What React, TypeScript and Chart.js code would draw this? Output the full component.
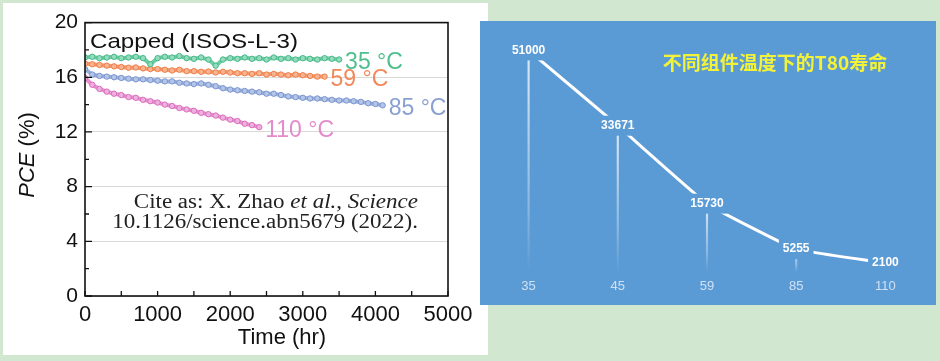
import React, { useEffect, useRef } from "react";
import { Chart, registerables } from "chart.js";

Chart.register(...registerables);

// ---------- data: left panel (PCE vs time) ----------
const HOURS = [0, 100, 200, 300, 400, 500, 600, 700, 800, 900, 1000, 1100, 1200, 1300, 1400, 1500, 1600, 1700, 1800, 1900, 2000, 2100, 2200, 2300, 2400, 2500, 2600, 2700, 2800, 2900, 3000, 3100, 3200, 3300, 3400, 3500, 3600, 3700, 3800, 3900, 4000, 4100];
const PCE_35 = [17.45, 17.5, 17.4, 17.45, 17.5, 17.4, 17.45, 17.5, 17.4, 16.95, 17.4, 17.5, 17.45, 17.55, 17.4, 17.35, 17.45, 17.3, 16.85, 17.3, 17.4, 17.35, 17.45, 17.35, 17.4, 17.3, 17.45, 17.35, 17.4, 17.3, 17.4, 17.35, 17.3, 17.4, 17.35, 17.3];
const PCE_59 = [17.0, 16.95, 16.9, 16.85, 16.8, 16.75, 16.7, 16.72, 16.65, 16.6, 16.6, 16.55, 16.5, 16.55, 16.45, 16.45, 16.4, 16.42, 16.35, 16.4, 16.35, 16.3, 16.3, 16.25, 16.3, 16.2, 16.25, 16.2, 16.15, 16.2, 16.15, 16.1, 16.05, 16.05];
const PCE_85 = [16.6, 16.2, 16.1, 16.05, 16.0, 15.95, 15.9, 15.85, 15.85, 15.8, 15.75, 15.7, 15.7, 15.6, 15.55, 15.5, 15.55, 15.45, 15.35, 15.2, 15.1, 15.05, 15.0, 14.95, 14.9, 14.8, 14.8, 14.7, 14.6, 14.55, 14.5, 14.45, 14.45, 14.4, 14.35, 14.3, 14.3, 14.25, 14.2, 14.1, 14.05, 13.95];
const PCE_110 = [15.95, 15.45, 15.15, 14.95, 14.8, 14.7, 14.55, 14.5, 14.35, 14.25, 14.15, 14.0, 13.9, 13.75, 13.65, 13.55, 13.4, 13.3, 13.2, 13.05, 12.9, 12.8, 12.6, 12.5, 12.35];
const SERIES_LABELS = ["35 °C", "59 °C", "85 °C", "110 °C"];
const X_TICKS = [0, 1000, 2000, 3000, 4000, 5000];
const Y_TICKS = [0, 4, 8, 12, 16, 20];
const PANEL_TITLE = "Capped (ISOS-L-3)";
const CITE_1 = ["Cite as: X. Zhao ", "et al.", ", ", "Science"];
const CITE_2 = "10.1126/science.abn5679 (2022).";

// ---------- data: right panel (T80 lifetime) ----------
const TEMPS = ["35", "45", "59", "85", "110"];
const T80 = [51000, 33671, 15730, 5255, 2100];
const RIGHT_TITLE = "不同组件温度下的T80寿命";

// ---------- styles ----------
const PAGE_BG = "#d1e7cf";
const BLUE = "#5b9bd5";
const LINE_COLORS = ["#45b886", "#ef7d47", "#7995cf", "#d96dbb"];
const FILL_COLORS = ["#93dcbd", "#f8b491", "#b4c5e8", "#f0b0df"];
const BAND_COLORS = ["#6fcca4", "#f49a6c", "#98aedc", "#e68fcd"];
const TEXT_COLORS = ["#4fbf8e", "#f2895a", "#8aa0d3", "#e38bcb"];
const SANS = '"Liberation Sans", Arial, sans-serif';
const SERIF = '"Liberation Serif", "Times New Roman", serif';
const STRETCH = 1.15;

const leftDecor = {
  id: "leftDecor",
  afterDatasetsDraw(chart: any) {
    const { ctx, chartArea: a, scales } = chart;
    const xs = scales.x;
    const ys = scales.y;
    ctx.save();
    // frame
    ctx.strokeStyle = "#111";
    ctx.lineWidth = 1.6;
    ctx.strokeRect(a.left, a.top, a.right - a.left, a.bottom - a.top);
    // inward ticks
    ctx.lineWidth = 1.3;
    ctx.beginPath();
    for (let v = 0; v <= 20; v += 2) {
      const py = ys.getPixelForValue(v);
      const len = v % 4 === 0 ? 7 : 4;
      ctx.moveTo(a.left, py);
      ctx.lineTo(a.left + len, py);
    }
    for (let v = 0; v <= 5000; v += 500) {
      const px = xs.getPixelForValue(v);
      ctx.moveTo(px, a.bottom);
      ctx.lineTo(px, a.bottom - 5);
    }
    ctx.stroke();

    // series end labels
    ctx.font = `23px ${SANS}`;
    ctx.textBaseline = "middle";
    ctx.textAlign = "left";
    for (let i = 0; i < SERIES_LABELS.length; i++) {
      const meta = chart.getDatasetMeta(i);
      const last = meta.data[meta.data.length - 1];
      ctx.fillStyle = TEXT_COLORS[i];
      ctx.fillText(SERIES_LABELS[i], last.x + 6, last.y + 3);
    }

    // panel title (horizontally stretched like the source figure)
    ctx.save();
    ctx.fillStyle = "#111";
    ctx.font = `21px ${SANS}`;
    ctx.translate(a.left + 5, a.top + 20);
    ctx.scale(STRETCH, 1);
    ctx.fillText(PANEL_TITLE, 0, 0);
    ctx.restore();

    // citation
    const fonts = [`20px ${SERIF}`, `italic 20px ${SERIF}`, `20px ${SERIF}`, `italic 20px ${SERIF}`];
    let total = 0;
    const widths = CITE_1.map((s, i) => {
      ctx.font = fonts[i];
      const w = ctx.measureText(s).width;
      total += w;
      return w;
    });
    ctx.save();
    ctx.fillStyle = "#222";
    ctx.translate(a.right - 30, 0);
    ctx.scale(STRETCH, 1);
    let cx = -total;
    CITE_1.forEach((s, i) => {
      ctx.font = fonts[i];
      ctx.fillText(s, cx, 200);
      cx += widths[i];
    });
    ctx.font = `20px ${SERIF}`;
    ctx.textAlign = "right";
    ctx.fillText(CITE_2, 0, 220);
    ctx.restore();

    // axis titles
    ctx.fillStyle = "#111";
    ctx.textAlign = "center";
    ctx.font = `22px ${SANS}`;
    ctx.fillText("Time (hr)", 279, 335);

    ctx.translate(25, 152);
    ctx.rotate(-Math.PI / 2);
    ctx.textAlign = "left";
    ctx.font = `italic 22px ${SANS}`;
    const w1 = ctx.measureText("PCE").width;
    ctx.font = `22px ${SANS}`;
    const w2 = ctx.measureText(" (%)").width;
    const start = -(w1 + w2) / 2;
    ctx.font = `italic 22px ${SANS}`;
    ctx.fillText("PCE", start, 0);
    ctx.font = `22px ${SANS}`;
    ctx.fillText(" (%)", start + w1, 0);
    ctx.restore();
  },
};

const rightDecor = {
  id: "rightDecor",
  afterDatasetsDraw(chart: any) {
    const { ctx } = chart;
    const meta = chart.getDatasetMeta(0);
    ctx.save();
    ctx.font = `bold 12px ${SANS}`;
    ctx.textAlign = "center";
    ctx.textBaseline = "middle";
    meta.data.forEach((pt: any, i: number) => {
      const txt = String(T80[i]);
      const w = ctx.measureText(txt).width;
      ctx.fillStyle = BLUE;
      ctx.fillRect(pt.x - w / 2 - 4, pt.y - 10, w + 8, 20);
      ctx.fillStyle = "#ffffff";
      ctx.fillText(txt, pt.x, pt.y);
    });
    ctx.font = `bold 19px "Noto Sans CJK SC", sans-serif`;
    ctx.fillStyle = "#f2f238";
    ctx.fillText(RIGHT_TITLE, 295, 42);
    ctx.restore();
  },
};

export default function App() {
  const leftRef = useRef<HTMLCanvasElement>(null);
  const rightRef = useRef<HTMLCanvasElement>(null);

  useEffect(() => {
    const series = [PCE_35, PCE_59, PCE_85, PCE_110];
    const left = new Chart(leftRef.current as HTMLCanvasElement, {
      type: "line",
      data: {
        datasets: series.map((vals, i) => ({
          label: SERIES_LABELS[i],
          data: vals.map((v, j) => ({ x: HOURS[j], y: v })),
          borderColor: BAND_COLORS[i],
          borderWidth: 4,
          pointRadius: 2.7,
          pointBorderWidth: 1,
          pointBorderColor: LINE_COLORS[i],
          pointBackgroundColor: FILL_COLORS[i],
          tension: 0,
        })),
      },
      options: {
        responsive: false,
        animation: false,
        layout: { padding: { left: 0, top: 14, right: 40, bottom: 0 } },
        plugins: { legend: { display: false }, tooltip: { enabled: false } },
        scales: {
          x: {
            type: "linear",
            min: 0,
            max: 5000,
            afterFit: (s: any) => { s.height = 59; },
            afterBuildTicks: (s: any) => { s.ticks = X_TICKS.map((v) => ({ value: v })); },
            grid: { display: false, drawTicks: false },
            border: { display: false },
            ticks: {
              color: "#111",
              font: { family: SANS, size: 22 },
              padding: 6,
              maxRotation: 0,
              callback: (v: any) => String(v),
            },
          },
          y: {
            min: 0,
            max: 20,
            afterFit: (s: any) => { s.width = 82; },
            afterBuildTicks: (s: any) => { s.ticks = Y_TICKS.map((v) => ({ value: v })); },
            grid: { color: "#d9d9d9", lineWidth: 1, drawTicks: false },
            border: { display: false },
            ticks: { color: "#111", font: { family: SANS, size: 21 }, padding: 7, callback: (v: any) => String(v) },
          },
        },
      },
      plugins: [leftDecor],
    } as any);

    const right = new Chart(rightRef.current as HTMLCanvasElement, {
      type: "bar",
      data: {
        labels: TEMPS,
        datasets: [
          {
            type: "line",
            data: T80,
            borderColor: "#ffffff",
            borderWidth: 3,
            pointRadius: 0,
            tension: 0.1,
            order: 0,
          },
          {
            type: "bar",
            data: T80,
            barThickness: 1.5,
            order: 1,
            backgroundColor: (c: any) => {
              const chart = c.chart;
              if (!chart.chartArea || c.raw === undefined) return "rgba(255,255,255,0.6)";
              const ys = chart.scales.y;
              const top = ys.getPixelForValue(c.raw);
              const base = ys.getPixelForValue(0);
              const g = chart.ctx.createLinearGradient(0, top, 0, base);
              g.addColorStop(0, "rgba(255,255,255,0.8)");
              g.addColorStop(0.7, "rgba(255,255,255,0.3)");
              g.addColorStop(1, "rgba(255,255,255,0)");
              return g;
            },
          },
        ],
      },
      options: {
        responsive: false,
        animation: false,
        layout: { padding: { left: 4, top: 12, right: 6, bottom: 0 } },
        plugins: { legend: { display: false }, tooltip: { enabled: false } },
        scales: {
          x: {
            afterFit: (s: any) => { s.height = 33; },
            grid: { display: false, drawTicks: false },
            border: { display: false },
            ticks: { color: "#cfe0f3", font: { family: SANS, size: 13 }, padding: 7 },
          },
          y: { display: false, min: 0, max: 55000 },
        },
      },
      plugins: [rightDecor],
    } as any);

    return () => {
      left.destroy();
      right.destroy();
    };
  }, []);

  return (
    <div style={{ position: "absolute", left: 0, top: 0, width: 940, height: 361, background: PAGE_BG, overflow: "hidden" }}>
      <div style={{ position: "absolute", left: 3, top: 3, width: 485, height: 352, background: "#ffffff" }}>
        <canvas ref={leftRef} width={485} height={352} style={{ display: "block" }} />
      </div>
      <div style={{ position: "absolute", left: 480, top: 21, width: 456, height: 284, background: BLUE }}>
        <canvas ref={rightRef} width={456} height={284} style={{ display: "block" }} />
      </div>
    </div>
  );
}
